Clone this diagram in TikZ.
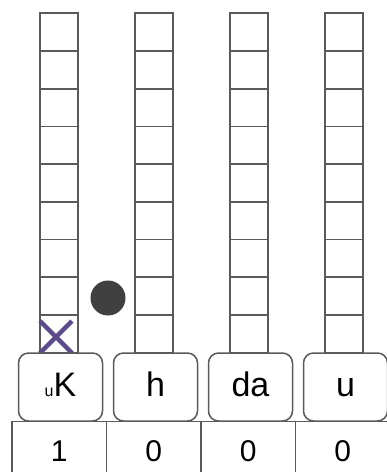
\documentclass[tikz,border=0pt]{standalone}
\usepackage{fontspec}
\setmainfont{Liberation Sans}
\definecolor{linha}{HTML}{5A5A5A}
\definecolor{roxo}{HTML}{5D4A8A}
\definecolor{bola}{HTML}{404040}
\begin{document}
\begin{tikzpicture}[x=1pt,y=-1pt]
  \tikzstyle{grade}=[draw=linha, line width=1.7pt]
  \tikzstyle{caixa}=[draw=linha, line width=1.5pt, fill=white, rounded corners=10pt, minimum width=84pt, minimum height=68pt, inner sep=0pt, font=\fontsize{34}{34}\selectfont, text height=24pt, text depth=5pt]
  \tikzstyle{cel}=[draw=linha, line width=1.5pt, minimum width=94.5pt, minimum height=62pt, inner sep=0pt, font=\fontsize{30}{30}\selectfont, text height=21.5pt, text depth=3pt]

  \useasboundingbox (0,0) rectangle (387,472);
  \clip (0,0) rectangle (387,472);

  % colunas
  \foreach \c in {0,...,3} {
    \foreach \r in {0,...,8} {
      \draw[grade] ({40+95*\c},{13.3+37.7*\r}) rectangle ++(38,37.7);
    }
  }

  % marcas
  \fill[bola] (108,298) circle (17.5);
  \draw[roxo, line width=4.5pt] (40,321) -- (72,353) (40,353) -- (72,321);

  % caixas
  \foreach \t [count=\c from 0] in {{\fontsize{16}{16}\selectfont u}K,h,da,u} {
    \node[caixa] (b\c) at ({60.5+95*\c},387) {\t};
  }

  % contadores
  \foreach \v [count=\c from 0] in {1,0,0,0} {
    \node[cel] (t\c) at ({59.25+94.5*\c},452.5) {\v};
  }
\end{tikzpicture}
\end{document}
